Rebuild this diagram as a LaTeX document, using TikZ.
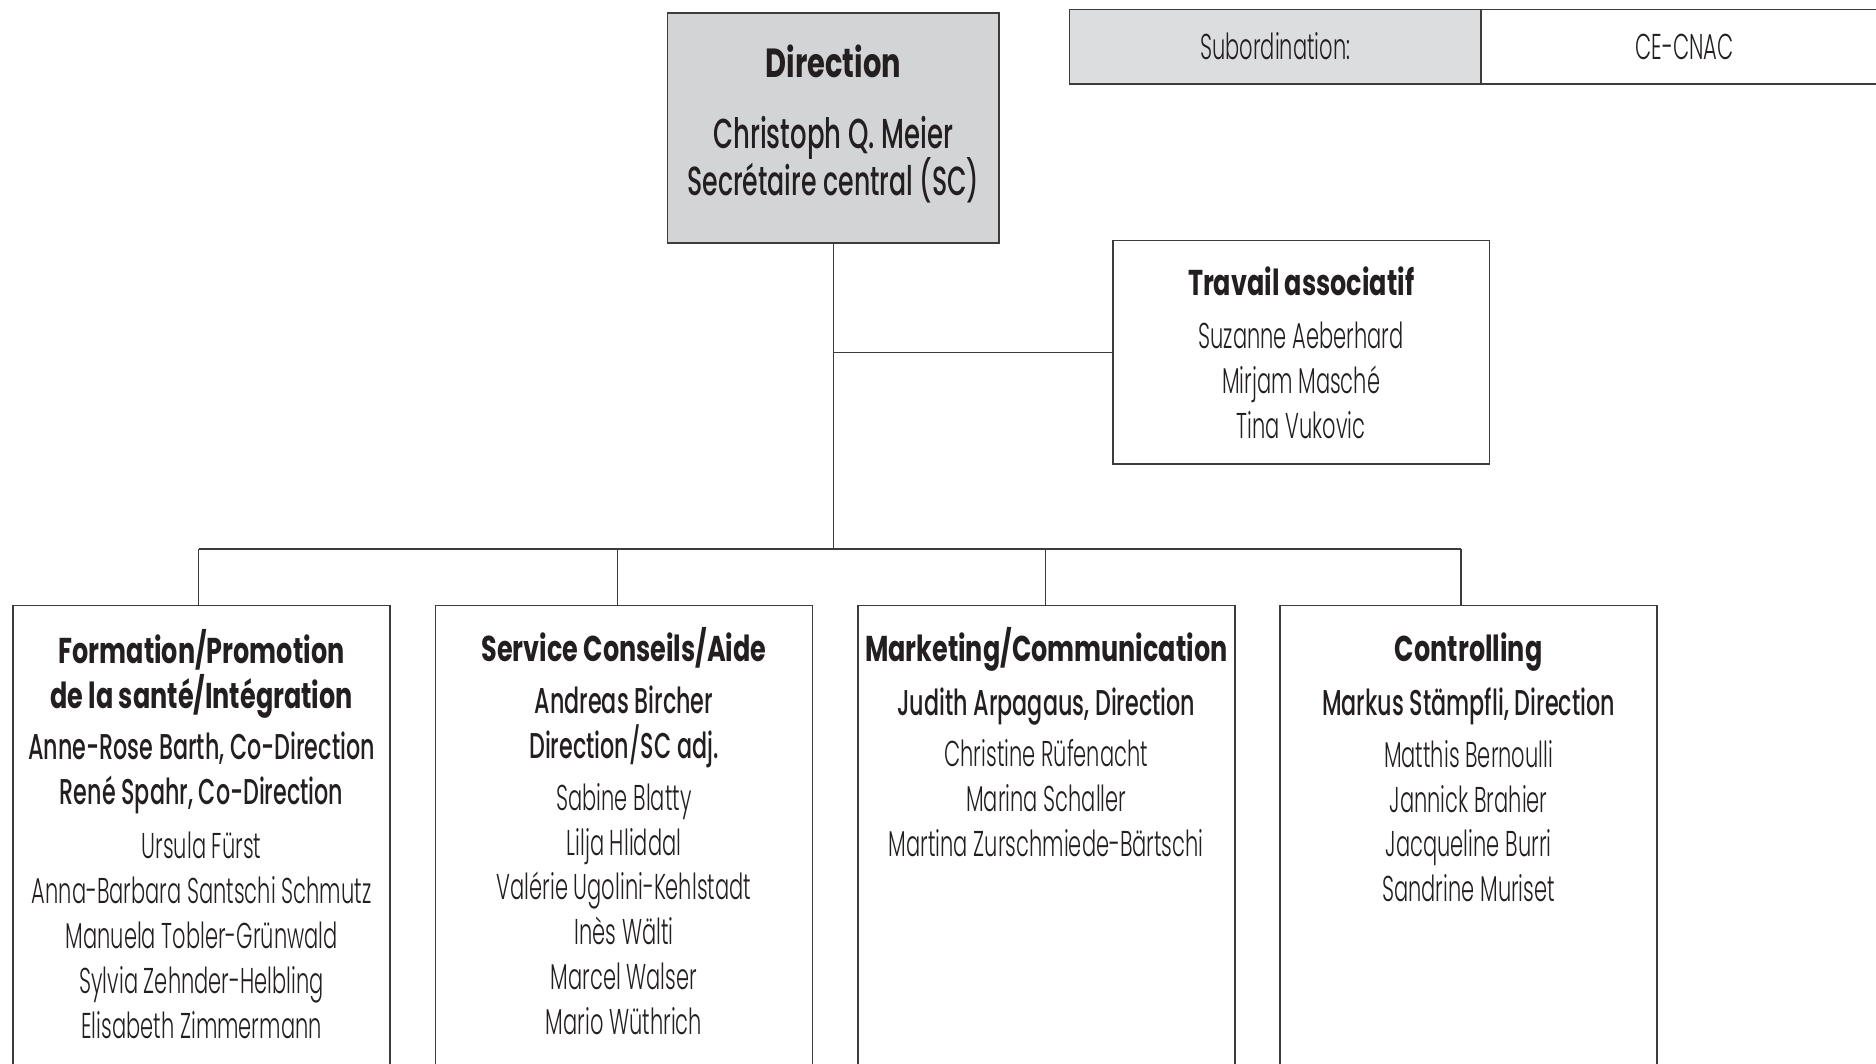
\documentclass[tikz,border=0pt]{standalone}
\usepackage{fontspec}
\newfontfamily\lightfont[FakeStretch=0.585]{Poppins Light}
\newfontfamily\medfont[FakeStretch=0.62]{Poppins Medium}
\newfontfamily\boldfont[FakeStretch=0.71]{Poppins Bold}
\usetikzlibrary{positioning}
\definecolor{boxgrey}{HTML}{D3D4D6}
\definecolor{cellgrey}{HTML}{DCDDDF}
\definecolor{linegrey}{HTML}{3C3C3C}
\definecolor{inkblack}{HTML}{231F20}

\begin{document}
\begin{tikzpicture}
[
x=1pt, y=-1pt,
orgbox/.style={rectangle, draw=linegrey, line width=1.4pt, inner sep=0pt, outer sep=0pt},
unitbox/.style={orgbox, minimum width=315pt, minimum height=400pt},
textnode/.style={inner sep=0pt, align=center, text=inkblack, font=\fontsize{30}{37.5}\selectfont},
link/.style={draw=linegrey, line width=1.3pt},
node distance=38pt,
]
\useasboundingbox (0,0) rectangle (1568,888.5);

%Nodes
\node[orgbox, fill=boxgrey, minimum width=277pt, minimum height=192pt] (dir) at (696.5,107) {};
\node[textnode, font=\fontsize{34}{40}\selectfont] (dirtext) [below=26pt of dir.north] {\boldfont Direction\\[20pt] \medfont\fontsize{35}{40}\selectfont Christoph Q. Meier\\[-3pt] \medfont\fontsize{34}{40}\selectfont Secrétaire central (SC)};

\node[orgbox, fill=cellgrey, minimum width=344pt, minimum height=62pt, text=inkblack, font=\lightfont\fontsize{30}{36}\selectfont] (sublabel) at (1066,39) {Subordination:};
\node[orgbox, minimum width=340pt, minimum height=62pt, text=inkblack, font=\lightfont\fontsize{30}{36}\selectfont] (subvalue) [right=0pt of sublabel] {CE-CNAC};

\node[orgbox, minimum width=315pt, minimum height=187pt] (assoc) at (1087.5,294.5) {};
\node[textnode] (assoctext) [below=22pt of assoc.north] {\boldfont Travail associatif\\[6.5pt] \lightfont Suzanne Aeberhard\\ \lightfont Mirjam Masché\\ \lightfont Tina Vukovic};

\coordinate (bus) at (696.5,459);

\node[unitbox] (form) at (168.5,706) {};
\node[unitbox] (advice) [right=of form] {};
\node[unitbox] (market) [right=of advice] {};
\node[unitbox] (control) [right=of market] {};

\node[textnode] (formtext) [below=20pt of form.north] {\boldfont Formation/Promotion\\ \boldfont de la santé/Intégration\\[5.5pt] \medfont Anne-Rose Barth, Co-Direction\\ \medfont René Spahr, Co-Direction\\[7.5pt] \lightfont Ursula Fürst\\ \lightfont Anna-Barbara Santschi Schmutz\\ \lightfont Manuela Tobler-Grünwald\\ \lightfont Sylvia Zehnder-Helbling\\ \lightfont Elisabeth Zimmermann};
\node[textnode] (advicetext) [below=18pt of advice.north] {\boldfont Service Conseils/Aide\\[6.5pt] \medfont Andreas Bircher\\ \medfont Direction/SC adj.\\[5.5pt] \lightfont Sabine Blatty\\ \lightfont Lilja Hliddal\\ \lightfont Valérie Ugolini-Kehlstadt\\ \lightfont Inès Wälti\\ \lightfont Marcel Walser\\ \lightfont Mario Wüthrich};
\node[textnode] (markettext) [below=18pt of market.north] {\boldfont Marketing/Communication\\[7.5pt] \medfont Judith Arpagaus, Direction\\[5.5pt] \lightfont Christine Rüfenacht\\ \lightfont Marina Schaller\\ \lightfont Martina Zurschmiede-Bärtschi};
\node[textnode] (controltext) [below=23pt of control.north] {\boldfont Controlling\\[7.5pt] \medfont Markus Stämpfli, Direction\\[5.5pt] \lightfont Matthis Bernoulli\\ \lightfont Jannick Brahier\\ \lightfont Jacqueline Burri\\ \lightfont Sandrine Muriset};

%Lines
\draw[link] (dir.south) -- (bus);
\draw[link] (dir.south |- assoc.west) -- (assoc.west);
\draw[link] ([xshift=-2.5pt]form.north |- bus) -- ([xshift=-6.5pt]control.north |- bus);
\foreach \unit/\dx in {form/-2.5,advice/-5.5,market/-0.5,control/-6.5}
  \draw[link] ([xshift=\dx pt]\unit.north |- bus) -- ([xshift=\dx pt]\unit.north);
\end{tikzpicture}
\end{document}
